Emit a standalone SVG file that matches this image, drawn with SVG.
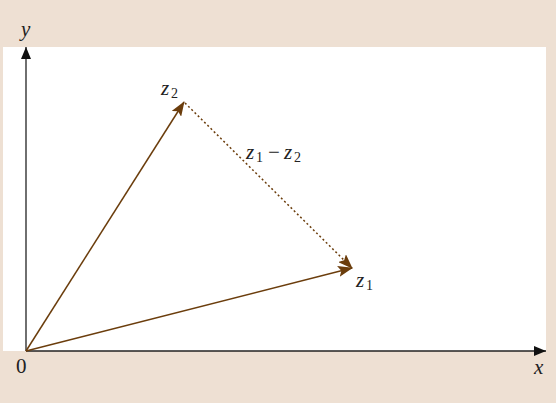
<svg xmlns="http://www.w3.org/2000/svg" width="556" height="403" viewBox="0 0 556 403">
<style>
.lbl{font-family:"Liberation Serif","DejaVu Serif",serif;font-size:21px;fill:#222;font-style:italic}
.num{font-family:"Liberation Serif","DejaVu Serif",serif;font-size:14px;fill:#222}
.up{font-family:"Liberation Serif","DejaVu Serif",serif;font-size:21px;fill:#222}
.axis{stroke:#222;stroke-width:1.3;fill:none}
.vec{stroke:#6b3d0c;stroke-width:1.5;fill:none}
</style>
<defs>
<marker id="ah" markerWidth="12" markerHeight="10" refX="12" refY="5" orient="auto" markerUnits="userSpaceOnUse"><path d="M0,0 L12,5 L0,10 Z" fill="#111"/></marker>
<marker id="bh" markerWidth="15" markerHeight="11" refX="14" refY="5.5" orient="auto" markerUnits="userSpaceOnUse"><path d="M0,0 L15,5.5 L0,11 L3,5.5 Z" fill="#6b3d0c"/></marker>
</defs>
<rect width="556" height="403" fill="#eee0d3"/>
<rect x="3" y="47" width="543" height="304" fill="#fff"/>
<g id="connectors">
<line class="axis" x1="26" y1="351" x2="26" y2="47" marker-end="url(#ah)"/>
<line class="axis" x1="26" y1="351" x2="546" y2="351" marker-end="url(#ah)"/>
<line class="vec" x1="26" y1="351" x2="184" y2="102" marker-end="url(#bh)"/>
<line class="vec" x1="26" y1="351" x2="352" y2="268" marker-end="url(#bh)"/>
<line class="vec" x1="185" y1="103" x2="352" y2="268" stroke-dasharray="2,2.5" marker-end="url(#bh)"/>
</g>
<g id="labels">
<text class="lbl" x="21" y="36">y</text>
<text class="up" x="16" y="373">0</text>
<text class="lbl" x="534" y="374">x</text>
<g id="z2"><text class="lbl" x="161" y="95">z</text><text class="num" x="171" y="98">2</text></g>
<g id="z1"><text class="lbl" x="356" y="287">z</text><text class="num" x="366" y="290">1</text></g>
<g id="diff"><text class="lbl" x="246" y="159">z</text><text class="num" x="256" y="162">1</text><text class="up" x="268" y="159">−</text><text class="lbl" x="284" y="159">z</text><text class="num" x="294" y="162">2</text></g>
</g>
</svg>
